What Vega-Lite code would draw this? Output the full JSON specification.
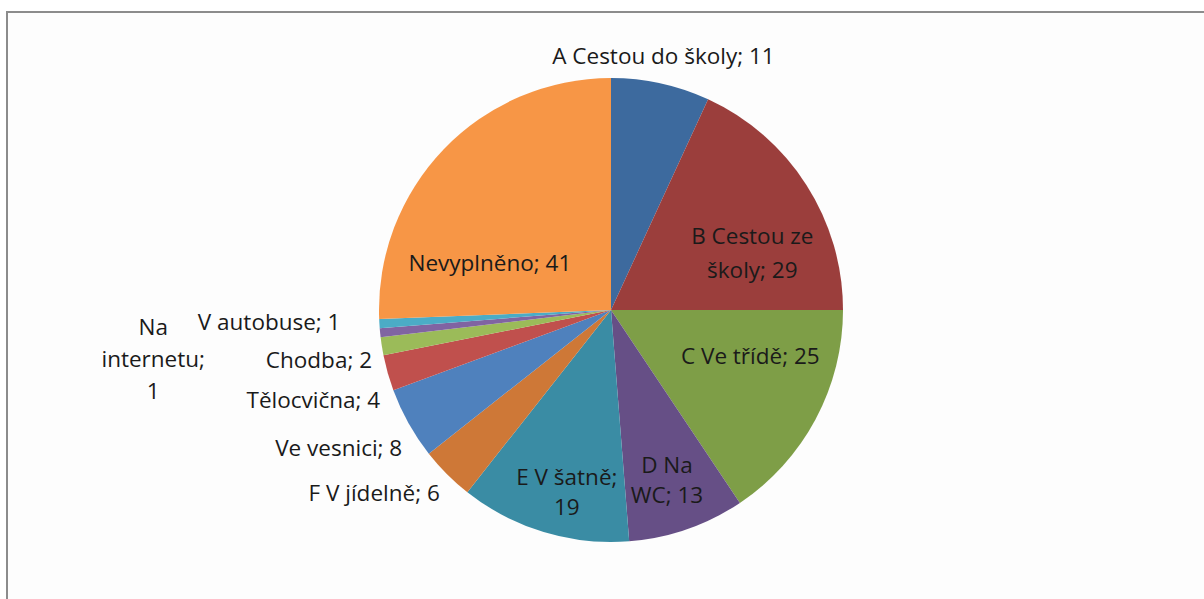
{
  "$schema": "https://vega.github.io/schema/vega-lite/v6.json",
  "width": 1208,
  "height": 596,
  "autosize": {"type": "none"},
  "padding": {"left": 7, "top": 12, "right": -11, "bottom": -9},
  "background": "white",
  "view": {"stroke": "#8c8c8c", "strokeWidth": 2, "strokeDash": [1208, 1804, 596], "fill": "#fdfdfd"},
  "config": {
    "text": {"font": "Open Sans", "fontSize": 22.5, "color": "#1a1a1a", "baseline": "middle", "lineHeight": 32, "lineBreak": "\n"}
  },
  "data": {
    "values": [
      {"i": 1, "cat": "A Cestou do školy", "value": 11, "label": "A Cestou do školy; 11"},
      {"i": 2, "cat": "B Cestou ze školy", "value": 29, "label": "B Cestou ze\nškoly; 29"},
      {"i": 3, "cat": "C Ve třídě", "value": 25, "label": "C Ve třídě; 25"},
      {"i": 4, "cat": "D Na WC", "value": 13, "label": "D Na\nWC; 13"},
      {"i": 5, "cat": "E V šatně", "value": 19, "label": "E V šatně;\n19"},
      {"i": 6, "cat": "F V jídelně", "value": 6, "label": "F V jídelně; 6"},
      {"i": 7, "cat": "Ve vesnici", "value": 8, "label": "Ve vesnici; 8"},
      {"i": 8, "cat": "Tělocvična", "value": 4, "label": "Tělocvična; 4"},
      {"i": 9, "cat": "Chodba", "value": 2, "label": "Chodba; 2"},
      {"i": 10, "cat": "Na internetu", "value": 1, "label": "Na\ninternetu;\n1"},
      {"i": 11, "cat": "V autobuse", "value": 1, "label": "V autobuse; 1"},
      {"i": 12, "cat": "Nevyplněno", "value": 41, "label": "Nevyplněno; 41"}
    ]
  },
  "layer": [
    {
      "mark": {"type": "point", "opacity": 0},
      "encoding": {
        "x": {"field": "i", "type": "quantitative", "axis": null},
        "y": {"field": "value", "type": "quantitative", "axis": null}
      }
    },
    {
      "encoding": {
        "theta": {"field": "value", "type": "quantitative", "stack": true},
        "order": {"field": "i", "type": "quantitative"}
      },
      "layer": [
        {
          "mark": {"type": "arc", "outerRadius": 232},
          "encoding": {
            "color": {
              "field": "cat",
              "type": "nominal",
              "legend": null,
              "scale": {
                "domain": ["A Cestou do školy", "B Cestou ze školy", "C Ve třídě", "D Na WC", "E V šatně", "F V jídelně", "Ve vesnici", "Tělocvična", "Chodba", "Na internetu", "V autobuse", "Nevyplněno"],
                "range": ["#3D6A9E", "#9B3E3C", "#7E9E47", "#664F86", "#3A8CA4", "#CE7837", "#4F81BD", "#C0504D", "#9BBB59", "#8064A2", "#4BACC6", "#F79646"]
              }
            }
          }
        },
        {
          "mark": {"type": "text", "radius": 259, "dx": -3, "align": "center"},
          "encoding": {"text": {"condition": {"test": "datum.i === 1", "field": "label", "type": "nominal"}, "value": ""}}
        },
        {
          "mark": {"type": "text", "radius": 150, "dx": 15, "dy": 8, "align": "center", "lineHeight": 34},
          "encoding": {"text": {"condition": {"test": "datum.i === 2", "field": "label", "type": "nominal"}, "value": ""}}
        },
        {
          "mark": {"type": "text", "radius": 150, "dx": 7, "dy": -24, "align": "center"},
          "encoding": {"text": {"condition": {"test": "datum.i === 3", "field": "label", "type": "nominal"}, "value": ""}}
        },
        {
          "mark": {"type": "text", "radius": 180, "dx": -3, "dy": -14, "align": "center", "lineHeight": 30},
          "encoding": {"text": {"condition": {"test": "datum.i === 4", "field": "label", "type": "nominal"}, "value": ""}}
        },
        {
          "mark": {"type": "text", "radius": 190, "dx": 11, "dy": -14, "align": "center", "lineHeight": 30},
          "encoding": {"text": {"condition": {"test": "datum.i === 5", "field": "label", "type": "nominal"}, "value": ""}}
        },
        {
          "mark": {"type": "text", "radius": 245, "dx": 2, "dy": 11, "align": "right"},
          "encoding": {"text": {"condition": {"test": "datum.i === 6", "field": "label", "type": "nominal"}, "value": ""}}
        },
        {
          "mark": {"type": "text", "radius": 245, "dx": 5, "dy": 19, "align": "right"},
          "encoding": {"text": {"condition": {"test": "datum.i === 7", "field": "label", "type": "nominal"}, "value": ""}}
        },
        {
          "mark": {"type": "text", "radius": 245, "dx": 5, "dy": 24, "align": "right"},
          "encoding": {"text": {"condition": {"test": "datum.i === 8", "field": "label", "type": "nominal"}, "value": ""}}
        },
        {
          "mark": {"type": "text", "radius": 245, "dx": 3, "dy": 13, "align": "right"},
          "encoding": {"text": {"condition": {"test": "datum.i === 9", "field": "label", "type": "nominal"}, "value": ""}}
        },
        {
          "mark": {"type": "text", "radius": 460, "dy": -27, "align": "center"},
          "encoding": {"text": {"condition": {"test": "datum.i === 10", "field": "label", "type": "nominal"}, "value": ""}}
        },
        {
          "mark": {"type": "text", "radius": 270, "dx": -1, "dy": -3, "align": "right"},
          "encoding": {"text": {"condition": {"test": "datum.i === 11", "field": "label", "type": "nominal"}, "value": ""}}
        },
        {
          "mark": {"type": "text", "radius": 150, "dx": -13, "dy": 58, "align": "center"},
          "encoding": {"text": {"condition": {"test": "datum.i === 12", "field": "label", "type": "nominal"}, "value": ""}}
        }
      ]
    }
  ]
}
